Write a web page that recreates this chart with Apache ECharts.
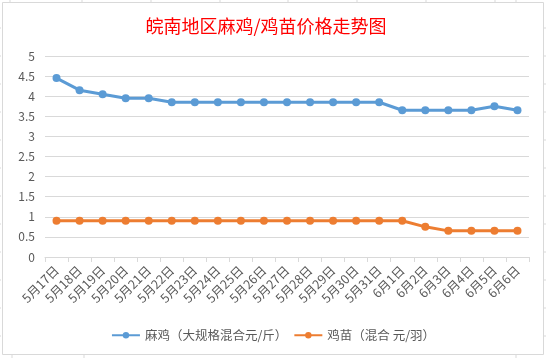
<!DOCTYPE html>
<html>
<head>
<meta charset="utf-8">
<script src="https://cdn.jsdelivr.net/npm/echarts@6/dist/echarts.min.js"></script>
<style>
html,body{margin:0;padding:0;background:#fff;}
#c{width:546px;height:358px;}
</style>
</head>
<body>
<div id="c"></div>
<script>
var categories = ['5月17日','5月18日','5月19日','5月20日','5月21日','5月22日','5月23日','5月24日','5月25日','5月26日','5月27日','5月28日','5月29日','5月30日','5月31日','6月1日','6月2日','6月3日','6月4日','6月5日','6月6日'];
var chickenPrice = [4.45,4.15,4.05,3.95,3.95,3.85,3.85,3.85,3.85,3.85,3.85,3.85,3.85,3.85,3.85,3.65,3.65,3.65,3.65,3.75,3.65];
var chickPrice = [0.9,0.9,0.9,0.9,0.9,0.9,0.9,0.9,0.9,0.9,0.9,0.9,0.9,0.9,0.9,0.9,0.75,0.65,0.65,0.65,0.65];
var seriesNames = ['麻鸡（大规格混合元/斤）','鸡苗（混合 元/羽）'];
var titleText = '皖南地区麻鸡/鸡苗价格走势图';

var chart = echarts.init(document.getElementById('c'));
var font = '"Microsoft YaHei","Noto Sans CJK SC",sans-serif';
var sheetLines = [];
[10,82,151,220,288,357,426,495,516].forEach(function(x){
  sheetLines.push({type:'line',shape:{x1:x,y1:0,x2:x,y2:2},style:{stroke:'#d9d9d9',lineWidth:1},silent:true});
});
[12,84,516].forEach(function(x){
  sheetLines.push({type:'line',shape:{x1:x,y1:355,x2:x,y2:358},style:{stroke:'#d9d9d9',lineWidth:1},silent:true});
});
[28,56,84,112,140,168,196,224,252,280,308,336].forEach(function(y){
  sheetLines.push({type:'line',shape:{x1:544,y1:y,x2:546,y2:y},style:{stroke:'#d9d9d9',lineWidth:1},silent:true});
  sheetLines.push({type:'line',shape:{x1:0,y1:y,x2:1,y2:y},style:{stroke:'#d9d9d9',lineWidth:1},silent:true});
});
sheetLines.push({type:'rect',shape:{x:2.5,y:2.5,width:541,height:352},style:{fill:'none',stroke:'#d9d9d9',lineWidth:1},silent:true});

chart.setOption({
  animation:false,
  backgroundColor:'#fff',
  graphic: sheetLines,
  title:{
    text:titleText,
    left:261, top:12, textAlign:'center',
    textStyle:{color:'#ff0000',fontSize:18,fontWeight:'normal',fontFamily:font}
  },
  legend:{
    data:seriesNames,
    left:'center', top:324,
    itemWidth:28, itemHeight:8, itemGap:6,
    textStyle:{color:'#595959',fontSize:12.5,fontFamily:font}
  },
  grid:{left:45,right:17,top:56,bottom:101,containLabel:false},
  xAxis:{
    type:'category',
    data:categories,
    boundaryGap:true,
    axisLine:{lineStyle:{color:'#d9d9d9',width:1}},
    axisTick:{show:true,length:5,lineStyle:{color:'#d9d9d9'}},
    axisLabel:{rotate:45,color:'#595959',fontSize:12.5,fontFamily:font,interval:0,margin:11}
  },
  yAxis:{
    type:'value',
    min:0,max:5,interval:0.5,
    axisLine:{show:false},
    axisTick:{show:false},
    splitLine:{lineStyle:{color:'#d9d9d9',width:1}},
    axisLabel:{color:'#595959',fontSize:12,fontFamily:font,margin:10}
  },
  series:[
    {name:seriesNames[0],type:'line',data:chickenPrice,symbol:'circle',symbolSize:8,
     itemStyle:{color:'#5b9bd5'},lineStyle:{color:'#5b9bd5',width:3}},
    {name:seriesNames[1],type:'line',data:chickPrice,symbol:'circle',symbolSize:8,
     itemStyle:{color:'#ed7d31'},lineStyle:{color:'#ed7d31',width:3}}
  ]
});
</script>
</body>
</html>
